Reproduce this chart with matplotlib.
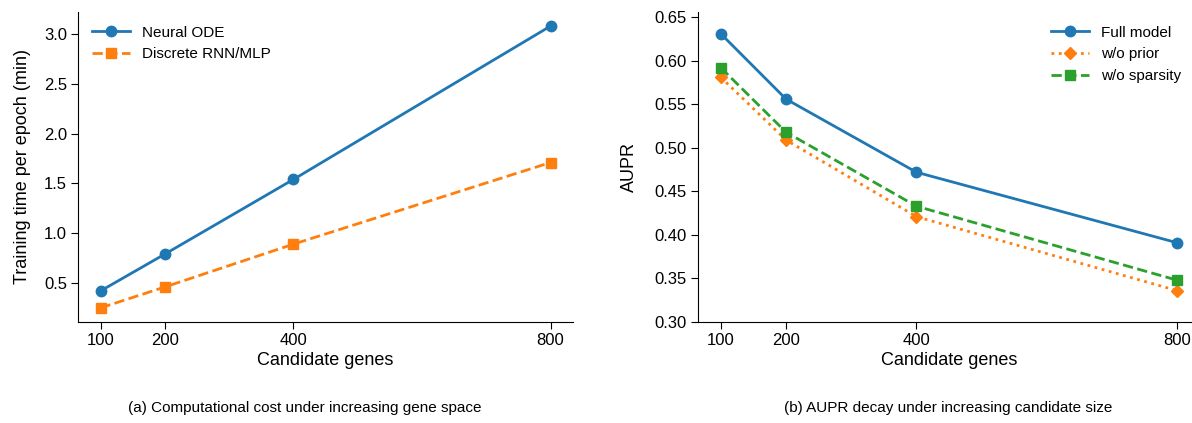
import matplotlib
matplotlib.use('Agg')
import matplotlib.pyplot as plt

plt.rcParams['font.family'] = ['Liberation Sans', 'DejaVu Sans']

genes = [100, 200, 400, 800]
xticks = [100, 200, 400, 800]

# panel (a) training time per epoch (min)
ode_time = [0.42, 0.79, 1.54, 3.08]
rnn_time = [0.25, 0.46, 0.89, 1.71]

# panel (b) AUPR
full_aupr = [0.631, 0.556, 0.472, 0.391]
noprior_aupr = [0.581, 0.509, 0.421, 0.336]
nosparse_aupr = [0.592, 0.518, 0.433, 0.348]

blue = '#1f77b4'
orange = '#ff7f0e'
green = '#2ca02c'

W, H = 1192, 423
fig = plt.figure(figsize=(W / 100, H / 100), dpi=100)
ax1 = fig.add_axes([78 / W, (H - 322) / H, 495 / W, 310 / H])
ax2 = fig.add_axes([698 / W, (H - 322) / H, 502 / W, 310 / H])

ax1.plot(genes, ode_time, '-o', color=blue, lw=2, ms=7.5, label='Neural ODE')
ax1.plot(genes, rnn_time, '--s', color=orange, lw=2, ms=7, label='Discrete RNN/MLP')
ax1.set_ylabel('Training time per epoch (min)', fontsize=13, labelpad=9)
ax1.set_yticks([0.5, 1.0, 1.5, 2.0, 2.5, 3.0])
ax1.legend(loc='upper left', frameon=False, fontsize=11, handlelength=2.5)

ax2.plot(genes, full_aupr, '-o', color=blue, lw=2, ms=7.5, label='Full model')
ax2.plot(genes, noprior_aupr, ':D', color=orange, lw=2, ms=6.5, label='w/o prior')
ax2.plot(genes, nosparse_aupr, '--s', color=green, lw=2, ms=7, label='w/o sparsity')
ax2.set_ylabel('AUPR', fontsize=13, labelpad=12)
ax2.set_ylim(0.30, 0.656)
ax2.set_yticks([0.30, 0.35, 0.40, 0.45, 0.50, 0.55, 0.60, 0.65])
ax2.legend(loc='upper right', bbox_to_anchor=(0.99, 1.0), frameon=False,
           fontsize=11, handlelength=2.5)

for ax in (ax1, ax2):
    ax.set_xticks(xticks)
    ax.set_xticklabels([str(x) for x in xticks])
    ax.set_xlabel('Candidate genes', fontsize=13, labelpad=3)
    ax.tick_params(labelsize=12, length=5, pad=3)
    ax.spines['top'].set_visible(False)
    ax.spines['right'].set_visible(False)

fig.text(305 / W, 1 - 408 / H, '(a) Computational cost under increasing gene space',
         ha='center', va='center', fontsize=11)
fig.text(948 / W, 1 - 408 / H, '(b) AUPR decay under increasing candidate size',
         ha='center', va='center', fontsize=11)

fig.savefig('out.png', dpi=100)
